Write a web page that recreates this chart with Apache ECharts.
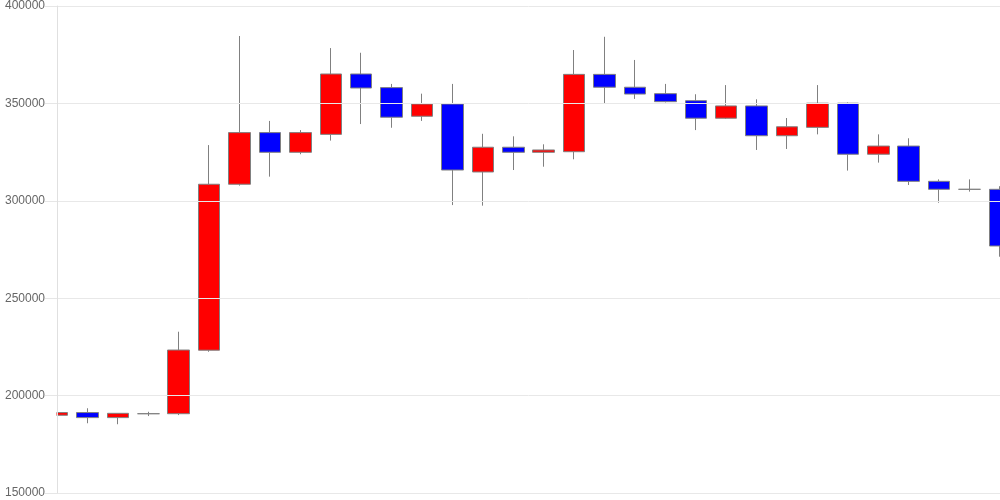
<!DOCTYPE html>
<html>
<head>
<meta charset="utf-8">
<script src="https://cdn.jsdelivr.net/npm/echarts@6/dist/echarts.min.js"></script>
<style>html,body{margin:0;padding:0;background:#fff;}#c{width:1000px;height:500px;}</style>
</head>
<body>
<div id="c"></div>
<script>
const categories = ['1','2','3','4','5','6','7','8','9','10','11','12','13','14','15','16','17','18','19','20','21','22','23','24','25','26','27','28','29','30','31','32'];
const opens  = [189900,191300,188700,190700,190700,223300,308500,335000,324900,334100,365100,358100,343400,349700,314800,327500,324900,325200,364900,358300,355000,351400,342400,348700,333400,337700,350100,323900,328100,310000,305900,305900];
const closes = [191300,188700,190900,190700,223400,308500,335000,324900,335000,365100,357900,342900,349700,315800,327500,324900,326100,364900,358300,354800,350900,342400,348700,333400,338000,350100,323900,328100,310000,305900,305900,276800];
const lows   = [189700,185800,185300,189500,190000,222500,307800,312400,323900,330900,339400,337500,341000,297800,297500,315800,317500,321300,350100,352300,350500,336300,342000,326100,326600,334100,315500,319600,308100,299000,304700,271300];
const highs  = [191600,193500,191000,191700,232800,328600,384600,341000,336300,378400,376000,360000,355000,360000,334400,333100,329000,377400,384200,372300,360000,354700,359400,352100,342500,359400,350500,334100,332100,311000,311000,307500];
const yTicks = { min: 150000, max: 400000, interval: 50000 };

const data = categories.map((c, i) => [opens[i], closes[i], lows[i], highs[i]]);

const chart = echarts.init(document.getElementById('c'), null, { renderer: 'canvas' });
chart.setOption({
  animation: false,
  backgroundColor: '#fff',
  grid: { left: 57, right: 0, top: 6, bottom: 7, containLabel: false },
  graphic: [{
    type: 'rect',
    z: 3,
    silent: true,
    shape: { x: 0, y: 0, width: 56.5, height: 500 },
    style: { fill: '#fff' }
  }],
  xAxis: {
    type: 'category',
    data: categories,
    boundaryGap: false,
    axisLine: { show: true, lineStyle: { color: '#e0e0e0' } },
    axisTick: { show: false },
    axisLabel: { show: false },
    splitLine: { show: false }
  },
  yAxis: {
    type: 'value',
    z: 5,
    min: yTicks.min,
    max: yTicks.max,
    interval: yTicks.interval,
    axisLine: { show: true, lineStyle: { color: '#e0e0e0' } },
    axisTick: { show: true, length: 12, lineStyle: { color: '#e6e6e6' } },
    axisLabel: { color: '#666', fontSize: 12, fontFamily: 'Liberation Sans, Arial, sans-serif', margin: 12, formatter: v => String(v) },
    splitLine: { show: true, lineStyle: { color: '#e8e8e8' } }
  },
  series: [{
    type: 'candlestick',
    data: data,
    barWidth: 22,
    clip: true,
    itemStyle: {
      color: '#ff0000',
      color0: '#0000ff',
      borderColor: '#808080',
      borderColor0: '#808080',
      borderColorDoji: '#808080',
      borderWidth: 1
    }
  }]
});
</script>
</body>
</html>
